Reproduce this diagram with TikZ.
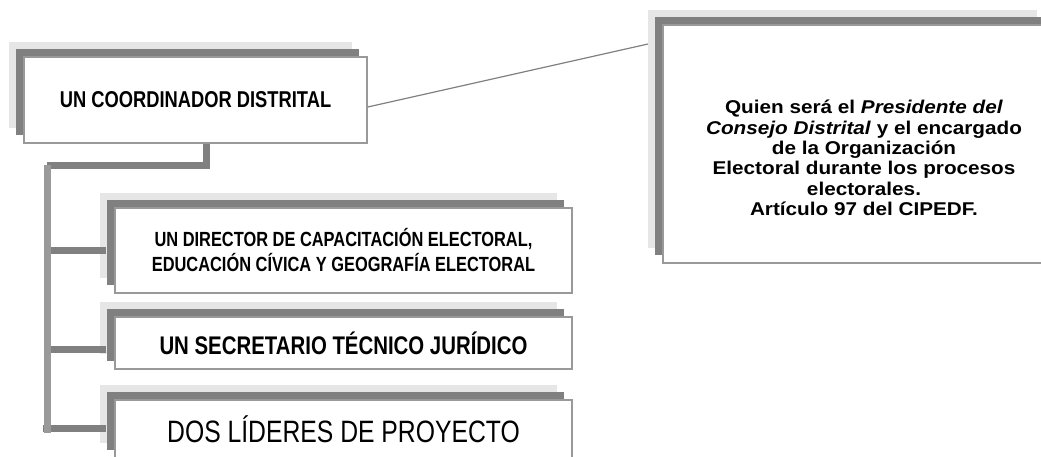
\documentclass[tikz,border=0pt]{standalone}
\usepackage{fontspec}
\setmainfont{Liberation Sans}
\newfontfamily\narrowfont[FakeStretch=0.8]{Liberation Sans}
\newfontfamily\widefont[FakeStretch=1.12]{Liberation Sans}
\usetikzlibrary{shadows}

\definecolor{sombraclara}{HTML}{E6E6E6}
\definecolor{sombraoscura}{HTML}{808080}
\definecolor{bordecaja}{HTML}{999999}
\definecolor{troncogris}{HTML}{9A9A9A}

\tikzset{
  caja/.style={draw=bordecaja, line width=1.5pt, fill=white, inner sep=0pt, align=center,
    general shadow={fill=sombraclara, shadow xshift=-15pt, shadow yshift=15pt},
    general shadow={fill=sombraoscura, shadow xshift=-8pt, shadow yshift=8pt}},
  rama/.style={draw=sombraoscura, line width=7pt},
  tronco/.style={draw=troncogris, line width=7pt},
  enlace/.style={draw=sombraoscura, line width=1.2pt},
}

\begin{document}
\begin{tikzpicture}[x=1pt, y=-1pt]
    \clip (0,0) rectangle (1041,456);

    % link to the note (under the boxes)
    \coordinate (nota-borde) at (648,44);

    % boxes of the chart
    \node[caja, minimum width=343pt, minimum height=86pt,
          font=\narrowfont\bfseries\fontsize{22.9}{27}\selectfont] (coordinador) at (195.5,100)
          {UN COORDINADOR DISTRITAL};
    \node[caja, minimum width=457pt, minimum height=85pt,
          font=\narrowfont\bfseries\fontsize{20.5}{25}\selectfont] (director) at (343.5,250.5)
          {UN DIRECTOR DE CAPACITACIÓN ELECTORAL,\\EDUCACIÓN CÍVICA Y GEOGRAFÍA ELECTORAL};
    \node[caja, minimum width=457pt, minimum height=52pt,
          font=\narrowfont\bfseries\fontsize{25.5}{29}\selectfont] (secretario) at (343.5,343)
          {UN SECRETARIO TÉCNICO JURÍDICO};
    \node[caja, minimum width=457pt, minimum height=58pt,
          font=\narrowfont\fontsize{30.9}{35}\selectfont] (lideres) at (343.5,429)
          {DOS LÍDERES DE PROYECTO};

    % note box on the right
    \draw[enlace] ([yshift=-7pt]coordinador.east) -- (nota-borde);
    \node[caja, minimum width=389pt, minimum height=238pt] (nota) at (857.5,144) {};
    \node[font=\widefont\bfseries\fontsize{18.5}{20.3}\selectfont, align=center] (nota-texto) at (864,158)
          {Quien será el \textit{Presidente del}\\
           \textit{Consejo Distrital} y el encargado\\
           de la Organización\\
           Electoral durante los procesos\\
           electorales.\\
           Artículo 97 del CIPEDF.};

    % connectors
    \coordinate (codo) at (47,165);
    \coordinate (pie) at (47,433);
    \path ([yshift=-6pt]secretario.west) coordinate (s-rama);
    \path ([yshift=1pt]lideres.west) coordinate (l-rama);
    \draw[rama] ([xshift=10.5pt]coordinador.south) |- (codo);
    \draw[rama] (codo |- director.west) -- ([xshift=-8pt]director.west);
    \draw[rama] (codo |- s-rama) -- ([xshift=-8pt]s-rama);
    \draw[rama] ([xshift=-4pt]codo |- l-rama) -- ([xshift=-8pt]l-rama);
    \draw[tronco] (codo) -- (pie);
\end{tikzpicture}
\end{document}
